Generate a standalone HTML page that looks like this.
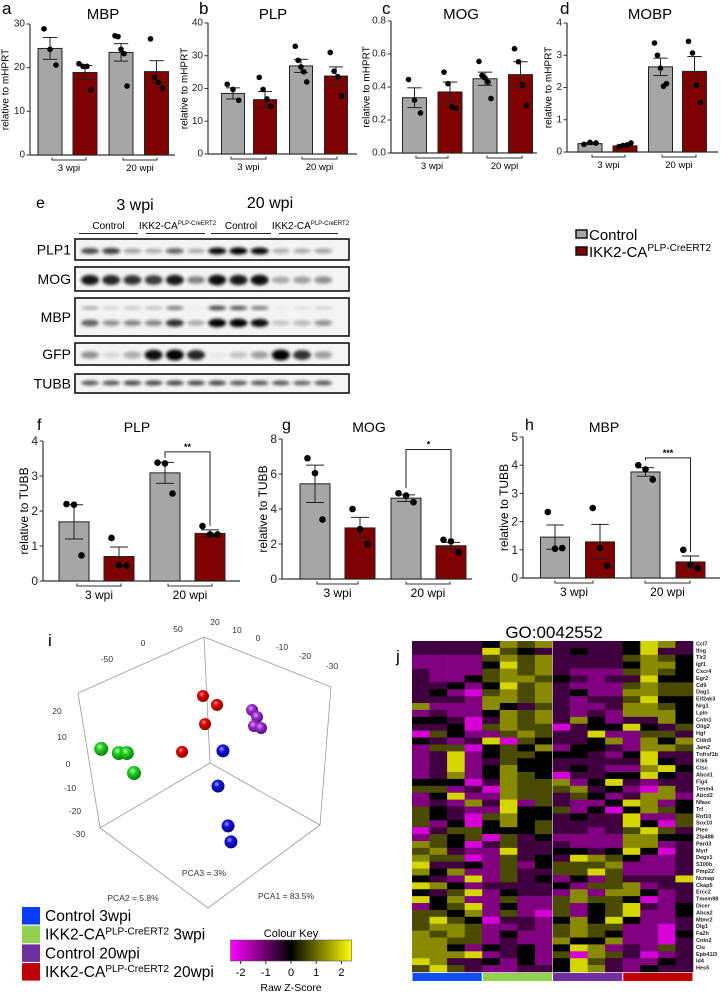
<!DOCTYPE html>
<html><head><meta charset="utf-8">
<style>
html,body{margin:0;padding:0;background:#fff;}
svg{display:block;font-family:"Liberation Sans",Arial,sans-serif;}
</style></head>
<body>
<svg id="fig" xmlns="http://www.w3.org/2000/svg" width="721" height="992" viewBox="0 0 721 992">
<defs>
<filter id="blur" x="-50%" y="-50%" width="200%" height="200%"><feGaussianBlur stdDeviation="1.6"/></filter>
<linearGradient id="zkey" x1="0" x2="1" y1="0" y2="0">
<stop offset="0" stop-color="#ff00ff"/><stop offset="0.5" stop-color="#000"/><stop offset="1" stop-color="#ffff00"/>
</linearGradient>
<radialGradient id="gr-red" cx="0.4" cy="0.35" r="0.7"><stop offset="0" stop-color="#ff9090"/><stop offset="0.35" stop-color="#e00000"/><stop offset="1" stop-color="#800000"/></radialGradient>
<radialGradient id="gr-purple" cx="0.4" cy="0.35" r="0.7"><stop offset="0" stop-color="#e0a0ff"/><stop offset="0.35" stop-color="#9a30d0"/><stop offset="1" stop-color="#4a0a70"/></radialGradient>
<radialGradient id="gr-green" cx="0.4" cy="0.35" r="0.7"><stop offset="0" stop-color="#b0ffb0"/><stop offset="0.35" stop-color="#20d020"/><stop offset="1" stop-color="#0a700a"/></radialGradient>
<radialGradient id="gr-blue" cx="0.4" cy="0.35" r="0.7"><stop offset="0" stop-color="#a0a0ff"/><stop offset="0.35" stop-color="#1010e0"/><stop offset="1" stop-color="#000070"/></radialGradient>
</defs>
</svg>
<script>
// ---------- Bar chart data (qPCR, a-d) ----------
const groups = ["3 wpi", "20 wpi"];
const mbpMeans = [24.4, 18.9, 23.5, 19.1];
const mbpErr = [2.5, 1.6, 2.0, 2.5];
const mbpPts = [[28.9, 24.2, 20.6], [20.9, 20.3, 20.3, 14.9], [27.3, 27.1, 24.2, 23.2, 15.8], [26.6, 17.8, 16.6, 15.3]];
const plpMeans = [18.5, 16.6, 26.9, 23.8];
const plpErr = [1.7, 2.5, 2.0, 2.8];
const plpPts = [[21.3, 19.7, 16.4], [23.4, 19.7, 16.8, 14.6], [32.9, 28.6, 26.6, 25.1, 22.0], [31.0, 25.3, 23.6, 17.7]];
const mogMeans = [0.335, 0.37, 0.45, 0.475];
const mogErr = [0.06, 0.06, 0.04, 0.078];
const mogPts = [[0.445, 0.32, 0.243], [0.49, 0.42, 0.28, 0.27], [0.555, 0.47, 0.455, 0.43, 0.33], [0.632, 0.553, 0.413, 0.29]];
const mobpMeans = [0.26, 0.19, 2.64, 2.5];
const mobpErr = [0.03, 0.03, 0.27, 0.46];
const mobpPts = [[0.24, 0.3, 0.28], [0.17, 0.2, 0.22, 0.28], [3.38, 3.0, 2.6, 2.04, 2.12], [3.43, 3.07, 2.07, 1.53]];
// ---------- Western blot quantification (f-h) ----------
const wbPlpMeans = [1.69, 0.7, 3.09, 1.36];
const wbPlpErr = [0.49, 0.27, 0.3, 0.1];
const wbPlpPts = [[2.2, 2.18, 0.73], [1.23, 0.45, 0.44], [3.38, 3.36, 2.5], [1.57, 1.33, 1.33]];
const wbMogMeans = [5.44, 2.92, 4.62, 1.9];
const wbMogErr = [1.07, 0.6, 0.19, 0.19];
const wbMogPts = [[6.9, 6.05, 3.4], [4.0, 2.85, 2.0], [4.9, 4.77, 4.39], [2.24, 2.15, 1.52]];
const wbMbpMeans = [1.45, 1.28, 3.76, 0.57];
const wbMbpErr = [0.43, 0.62, 0.15, 0.21];
const wbMbpPts = [[2.34, 1.04, 1.06], [2.48, 1.06, 0.43], [4.0, 3.85, 3.49], [1.0, 0.47, 0.35]];
// ---------- Blot band intensities (12 lanes) ----------
const blotRows = ["PLP1", "MOG", "MBP", "GFP", "TUBB"];
const bandPLP1 = [0.7, 0.75, 0.35, 0.3, 0.6, 0.3, 0.95, 1, 0.95, 0.3, 0.3, 0.35];
const bandMOG = [0.9, 0.85, 0.8, 0.75, 0.9, 0.45, 0.95, 0.9, 0.95, 0.3, 0.35, 0.4];
const bandMBPup = [0.3, 0.15, 0.2, 0.25, 0.5, 0.05, 0.7, 0.65, 0.5, 0.05, 0.1, 0.15];
const bandMBPlow = [0.6, 0.4, 0.45, 0.45, 0.8, 0.3, 1, 1, 0.95, 0.2, 0.25, 0.4];
const bandGFP = [0.4, 0.12, 0.3, 0.95, 1, 0.85, 0.05, 0.2, 0.35, 1, 0.8, 0.35];
const bandTUBB = [0.65, 0.65, 0.7, 0.7, 0.7, 0.7, 0.7, 0.65, 0.65, 0.65, 0.6, 0.65];
// ---------- PCA ----------
const pcaGroups = ["Control 3wpi", "IKK2-CA 3wpi", "Control 20wpi", "IKK2-CA 20wpi"];
const pcaPC1 = [[8.1, 5, 11.3, 13.1], [-68, -57, -52, -47.5], [26.3, 29.4, 27.5, 31.9], [-4.4, 4.4, -3.1, -17.5]];
const pcaPC2 = [[3.7, -10.6, -26.8, -33.3], [4.5, 2.8, 2.8, -5.3], [20.3, 17.5, 13.8, 13], [26, 22.4, 14.6, 3.3]];
// ---------- Heatmap ----------
const genes = ["Ccl7","Ifng","Tlr2","Igf1","Cxcr4","Egr2","Cd9","Dag1","Eif2ak3","Nrg1","Lpin","Cntn1","Olig2","Hgf","Cldn5","Jam2","Tnfrsf1b","Klk6","Ctsc","Abcd1","Fig4","Tenm4","Abcd2","Nfasc","Trf","Rnf10","Sox10","Pten","Zfp488","Pard3","Myrf","Degs1","S100b","Pmp22","Ncmap","Ckap5","Ercc2","Tmem98","Dicer","Abca2","Mtmr2","Dlg1","Fa2h","Cntn2","Clu","Epb41l3","Id4","Hes5"];
const heatZ = [
[-0.6,-0.6,-0.6,-0.6,0,1.3,0.7,1.3,-0.6,-0.6,-0.6,-0.6,0,2,1.3,-0.6],
[-0.6,-0.6,-0.6,-0.6,2,0.7,0,-0.6,-0.6,0,-0.6,-0.6,0,2,-0.6,-0.6],
[-1.2,-1.2,-1.2,-1.2,0.7,1.3,0.7,1.3,-0.6,-0.6,-0.6,-0.6,0.7,1.3,0.7,0],
[-1.2,-1.2,-1.2,-1.2,0,2,0.7,1.3,-0.6,-0.6,-0.6,-0.6,0,1.3,1.3,0],
[-0.6,-1.2,-1.2,-1.2,0.7,1.3,0.7,1.3,-0.6,-1.2,-1.2,-1.2,0.7,1.3,0.7,0],
[-0.6,-1.2,-1.2,0,0.7,1.3,1.3,0.7,0,-0.6,-1.2,-0.6,-0.6,2,0,0],
[-0.6,-0.6,0,-1.2,0,2,0.7,1.3,-0.6,-1.2,-1.2,-1.2,0.7,1.3,0.7,0.7],
[-0.6,0,-1.2,-2,0.7,1.3,0.7,1.3,-0.6,0,-1.2,-1.2,1.3,1.3,0.7,0.7],
[-0.6,-0.6,-0.6,-1.2,1.3,1.3,0.7,1.3,-0.6,-1.2,-0.6,-0.6,0.7,2,0,0],
[1.3,-1.2,-1.2,-1.2,1.3,0,-0.6,0.7,-0.6,-1.2,-1.2,-0.6,1.3,1.3,0.7,0],
[-1.2,-0.6,-1.2,-1.2,0,1.3,0.7,1.3,-0.6,-1.2,-0.6,-1.2,1.3,1.3,1.3,0],
[0,0,-0.6,-2,-0.6,1.3,0.7,1.3,-0.6,1.3,0,-1.2,-0.6,-0.6,1.3,0],
[-0.6,-0.6,0,-2,0.7,1.3,0.7,0.7,-2,-0.6,0,0,2,0,-0.6,0.7],
[-2,0.7,0,-1.2,-1.2,0.7,1.3,0.7,-0.6,-0.6,2,-1.2,-1.2,0.7,0.7,-0.6],
[0,-0.6,-1.2,-0.6,2,-2,0.7,0,-0.6,-0.6,0,1.3,-1.2,1.3,0,1.3],
[-1.2,0.7,0.7,-2,0,0.7,0,1.3,-1.2,0,0,-0.6,-1.2,1.3,1.3,0.7],
[-1.2,-0.6,2,-1.2,0,0.7,0.7,0,0,0,-0.6,-1.2,0,2,-0.6,-0.6],
[-1.2,-0.6,2,-1.2,-0.6,0.7,0,0,-0.6,-0.6,-0.6,-0.6,-0.6,2,0,-0.6],
[-1.2,-0.6,2,-1.2,0,1.3,0,0,-0.6,0,-0.6,-1.2,-1.2,1.3,2,0],
[-1.2,-0.6,1.3,-1.2,0,1.3,0.7,0,-2,-0.6,-0.6,0,0,2,0,-0.6],
[0,0,0,-2,-0.6,1.3,0.7,0.7,1.3,-1.2,0,2,-0.6,-1.2,-0.6,-0.6],
[0.7,0.7,-1.2,-0.6,-2,1.3,0.7,0.7,0.7,1.3,-0.6,0,-1.2,-2,1.3,-0.6],
[-1.2,0,2,-1.2,-1.2,1.3,0.7,0.7,-0.6,0.7,0,-1.2,-0.6,1.3,1.3,-1.2],
[-1.2,-0.6,-1.2,1.3,-0.6,2,-1.2,0.7,-0.6,-1.2,-1.2,0,2,1.3,-1.2,0],
[0.7,0,-0.6,-1.2,-1.2,2,0,0,0.7,-1.2,0,-2,0,1.3,0.7,0],
[0.7,0,-0.6,-2,0.7,1.3,0,0,-0.6,0,-0.6,-0.6,2,-1.2,-1.2,0.7],
[0.7,-1.2,0,-2,0,1.3,0,0.7,-0.6,-0.6,-0.6,-0.6,2,0,-2,0.7],
[-2,-0.6,0.7,0.7,0,0,0,0.7,-0.6,-0.6,-1.2,-0.6,0.7,2,0.7,-0.6],
[-1.2,0.7,0,0.7,-2,0.7,-0.6,0,-1.2,-1.2,-1.2,-1.2,1.3,1.3,0,0],
[1.3,0.7,0,-2,-0.6,0.7,-0.6,-0.6,-0.6,-1.2,-1.2,-1.2,1.3,1.3,-1.2,-0.6],
[0.7,1.3,-0.6,-1.2,-1.2,2,-0.6,-0.6,0,0,-0.6,0,2,0,-2,-0.6],
[1.3,0.7,0.7,-2,-1.2,0.7,-0.6,0,-0.6,2,1.3,0.7,0,-1.2,-1.2,-0.6],
[2,-0.6,-0.6,0,-1.2,0.7,-1.2,0,0.7,0.7,0.7,1.3,-1.2,-1.2,-1.2,-0.6],
[1.3,0,1.3,-1.2,-1.2,0.7,-0.6,-0.6,0.7,0.7,2,0.7,-1.2,-1.2,-1.2,-0.6],
[0,-0.6,-1.2,2,-1.2,0.7,-0.6,0,-1.2,0,-1.2,0.7,-0.6,-0.6,-0.6,2],
[2,1.3,0,-1.2,-0.6,-0.6,-0.6,-0.6,0,-1.2,0.7,0.7,1.3,-1.2,-0.6,-0.6],
[0,-0.6,0.7,2,-1.2,0,-0.6,-0.6,-1.2,1.3,-1.2,1.3,1.3,0,-1.2,-0.6],
[2,0,1.3,-1.2,-1.2,0.7,-1.2,-1.2,0.7,1.3,0.7,0.7,0,-2,-1.2,-0.6],
[-1.2,0,0.7,2,-1.2,0,-1.2,-1.2,0.7,-1.2,0,0.7,2,-0.6,-1.2,0],
[0.7,0.7,0,1.3,-1.2,0.7,-1.2,-2,0.7,-1.2,0,0.7,2,-1.2,-1.2,0],
[0.7,2,0.7,0,-2,-0.6,-0.6,-1.2,0,1.3,0,2,0,-1.2,-1.2,-0.6],
[0.7,1.3,1.3,0.7,-1.2,-1.2,-0.6,-1.2,0.7,1.3,0.7,0.7,-1.2,-1.2,-2,-0.6],
[1.3,0.7,1.3,0.7,-1.2,0,-1.2,-1.2,0.7,1.3,0.7,0,-1.2,-1.2,-2,0],
[1.3,1.3,0.7,0.7,-1.2,-0.6,-1.2,-1.2,1.3,0,0,1.3,-1.2,-1.2,-2,-0.6],
[1.3,1.3,0,-1.2,0,-0.6,0,-1.2,0,2,1.3,-1.2,-0.6,-1.2,0.7,-0.6],
[1.3,1.3,1.3,2,-1.2,-0.6,0,-1.2,0.7,-2,1.3,0.7,-0.6,-2,-1.2,-0.6],
[2,1.3,-0.6,-0.6,0,-1.2,0,-1.2,0,2,0.7,-0.6,-1.2,-1.2,0,-0.6],
[0.7,2,0.7,-0.6,-1.2,-1.2,-0.6,-0.6,0,2,1.3,-0.6,-1.2,0,-0.6,-0.6]
];
const zTicks = [-2, -1, 0, 1, 2];

const NS = "http://www.w3.org/2000/svg";
const svg = document.getElementById("fig");
function el(tag, attrs, parent, text) {
  const e = document.createElementNS(NS, tag);
  for (const k in attrs) e.setAttribute(k, attrs[k]);
  if (text !== undefined) e.textContent = text;
  (parent || svg).appendChild(e);
  return e;
}
const GRAY = "#a6a6a6", RED = "#7f0000";

function barPanel(cfg, means, errs, pts) {
  const g = el("g", {});
  
  
  const ys = v => cfg.y0 - (v / cfg.max) * (cfg.y0 - cfg.yTop);
  const t = el("text", {x: cfg.letterX, y: cfg.letterY, "font-size": cfg.letterSize, fill: "#000"}, g, cfg.letter);
  
  
  const tt = el("text", {x: cfg.titleX, y: cfg.titleY, "font-size": cfg.titleSize, "text-anchor": "middle"}, g, cfg.title);
  
  
  const yl = el("text", {transform: `translate(${cfg.ylabX},${(cfg.y0 + cfg.yTop) / 2}) rotate(-90)`, "font-size": cfg.ylabSize, "text-anchor": "middle", "dominant-baseline": "central"}, g, cfg.ylab);
  
  
  // axes
  const ya = el("line", {x1: cfg.ax, x2: cfg.ax, y1: cfg.yTop, y2: cfg.y0, stroke: "#333", "stroke-width": 1.2}, g);
  
  
  const xa = el("line", {x1: cfg.ax, x2: cfg.xEnd, y1: cfg.y0, y2: cfg.y0, stroke: "#333", "stroke-width": 1.2}, g);
  
  
  cfg.ticks.forEach(v => {
    const y = ys(v);
    el("line", {x1: cfg.ax - 3.5, x2: cfg.ax, y1: y, y2: y, stroke: "#333", "stroke-width": 1}, g);
    const tl = el("text", {x: cfg.ax - 5, y: y, "font-size": cfg.tickSize, "text-anchor": "end", "dominant-baseline": "central", fill: "#222"}, g, cfg.fmt(v));
    
    
  });
  means.forEach((m, i) => {
    const cx = cfg.centers[i];
    const b = el("rect", {x: cx - cfg.bw / 2, y: ys(m), width: cfg.bw, height: cfg.y0 - ys(m), fill: i % 2 ? RED : GRAY, stroke: "#222", "stroke-width": 1}, g);
    
    
    const e1 = ys(m + errs[i]), e2 = ys(m - errs[i]);
    el("line", {x1: cx, x2: cx, y1: e1, y2: e2, stroke: "#222", "stroke-width": 1}, g);
    el("line", {x1: cx - cfg.bw * 0.3, x2: cx + cfg.bw * 0.3, y1: e1, y2: e1, stroke: "#222", "stroke-width": 1}, g);
    el("line", {x1: cx - cfg.bw * 0.3, x2: cx + cfg.bw * 0.3, y1: e2, y2: e2, stroke: "#222", "stroke-width": 1}, g);
    const n = pts[i].length;
    pts[i].forEach((p, j) => {
      const off = n === 1 ? 0 : (j / (n - 1) - 0.5) * cfg.bw * 0.5;
      const d = el("circle", {cx: cx + off, cy: ys(p), r: cfg.dotR, fill: "#000"}, g);
      
      
    });
  });
  groups.forEach((lab, k) => {
    const [a, b] = cfg.brackets[k];
    const by = cfg.y0 + cfg.bracketGap;
    el("path", {d: `M${a},${by - 2.5}V${by}H${b}V${by - 2.5}`, fill: "none", stroke: "#333", "stroke-width": 1}, g);
    const gl = el("text", {x: (a + b) / 2, y: by + cfg.grpDy, "font-size": cfg.grpSize, "text-anchor": "middle"}, g, lab);
    
    
  });
  if (cfg.sig) {
    const l = cfg.centers[2], r = cfg.centers[3];
    const top = ys(cfg.sig.top);
    const ly = ys(Math.max(...pts[2])) - 5;
    const ry = ys(means[3] + errs[3]) - 4;
    const s = el("path", {d: `M${l},${ly}V${top}H${r}V${ry}`, fill: "none", stroke: "#222", "stroke-width": 1}, g);
    
    
    const st = el("text", {x: (l + r) / 2, y: top - 2, "font-size": 9, "text-anchor": "middle", "font-weight": "bold"}, g, cfg.sig.label);
    
    
  }
}
const topBase = {y0: 0, bw: 24, dotR: 2.8, tickSize: 10, titleSize: 15, titleY: 19, letterY: 14, letterSize: 17, ylab: "relative to mHPRT", ylabSize: 10, bracketGap: 5, grpDy: 11, grpSize: 9.5};
const f0 = v => String(v), f1 = v => v.toFixed(1);
barPanel(Object.assign({}, topBase, {name: "panel-a-mbp", ax: 30, y0: 155, yTop: 24, max: 30, ticks: [0, 10, 20, 30], fmt: f0, centers: [50, 85, 121, 156.5], xEnd: 175, title: "MBP", titleX: 103, letter: "a", letterX: 2, ylabX: 6, brackets: [[52, 86], [123, 157]]}), mbpMeans, mbpErr, mbpPts);
barPanel(Object.assign({}, topBase, {name: "panel-b-plp", ax: 208, y0: 154, yTop: 23, max: 40, ticks: [0, 10, 20, 30, 40], fmt: f0, centers: [233, 265, 301, 336], bw: 23, xEnd: 357, title: "PLP", titleX: 273, letter: "b", letterX: 199, ylabX: 185, brackets: [[231, 266], [302, 337]]}), plpMeans, plpErr, plpPts);
barPanel(Object.assign({}, topBase, {name: "panel-c-mog", ax: 391, y0: 153, yTop: 21, max: 0.8, ticks: [0, 0.2, 0.4, 0.6, 0.8], fmt: f1, centers: [414.5, 450, 485, 520.5], xEnd: 537, title: "MOG", titleX: 461, letter: "c", letterX: 382, ylabX: 367, brackets: [[416, 448], [487, 522]]}), mogMeans, mogErr, mogPts);
barPanel(Object.assign({}, topBase, {name: "panel-d-mobp", ax: 567, y0: 152, yTop: 23, max: 4, ticks: [0, 1, 2, 3, 4], fmt: f0, centers: [590, 625, 660.5, 694.5], xEnd: 718, title: "MOBP", titleX: 650, letter: "d", letterX: 560, ylabX: 549, brackets: [[592, 625], [662, 696]]}), mobpMeans, mobpErr, mobpPts);

const botBase = {bw: 30, dotR: 3.3, tickSize: 12, titleSize: 14, titleY: 432, letterY: 430, letterSize: 16, ylab: "relative to TUBB", ylabSize: 12, bracketGap: 5, grpDy: 13, grpSize: 12};
barPanel(Object.assign({}, botBase, {name: "panel-f-plp", ax: 43, y0: 581, yTop: 441, max: 4, ticks: [0, 1, 2, 3, 4], fmt: f0, centers: [74, 119, 165, 210], xEnd: 240, title: "PLP", titleX: 137, letter: "f", letterX: 37, ylabX: 24, brackets: [[77, 121], [168, 212]], sig: {top: 3.69, label: "**"}}), wbPlpMeans, wbPlpErr, wbPlpPts);
barPanel(Object.assign({}, botBase, {name: "panel-g-mog", ax: 282, y0: 579, yTop: 439, max: 8, ticks: [0, 2, 4, 6, 8], fmt: f0, centers: [315, 360, 406, 451], xEnd: 472, title: "MOG", titleX: 369, letter: "g", letterX: 282, ylabX: 263, brackets: [[317, 358], [406, 450]], sig: {top: 7.4, label: "*"}}), wbMogMeans, wbMogErr, wbMogPts);
barPanel(Object.assign({}, botBase, {name: "panel-h-mbp", ax: 523, y0: 578, yTop: 437, max: 5, ticks: [0, 1, 2, 3, 4, 5], fmt: f0, centers: [555, 600, 645.5, 690.5], bw: 29, xEnd: 720, title: "MBP", titleX: 604, letter: "h", letterX: 525, ylabX: 504, brackets: [[555, 593], [645, 690]], sig: {top: 4.26, label: "***"}}), wbMbpMeans, wbMbpErr, wbMbpPts);

// ---------- Western blot ----------
(function () {
  const g = el("g", {});
  
  
  let t = el("text", {x: 36, y: 208, "font-size": 16}, g, "e");
  
  
  t = el("text", {x: 135, y: 210, "font-size": 16, "text-anchor": "middle"}, g, "3 wpi");
  
  
  t = el("text", {x: 270, y: 208, "font-size": 16, "text-anchor": "middle"}, g, "20 wpi");
  
  
  const subs = [["Control", 79, 138], ["IKK2", 146, 205], ["Control", 211, 271], ["IKK2", 279, 338]];
  subs.forEach(s => {
    const c = (s[1] + s[2]) / 2;
    let tx;
    if (s[0] === "Control") tx = el("text", {x: c, y: 229, "font-size": 10, "text-anchor": "middle"}, g, "Control");
    else {
      tx = el("text", {x: c + 2, y: 229, "font-size": 10, "text-anchor": "middle"}, g);
      const a = el("tspan", {}, tx, "IKK2-CA");
      el("tspan", {"font-size": 6, dy: -4}, tx, "PLP-CreERT2");
    }
    
    
    el("line", {x1: s[1], x2: s[2], y1: 233.5, y2: 233.5, stroke: "#222", "stroke-width": 1}, g);
  });
  const boxes = [[239, 260], [267, 291], [298, 336], [343, 365], [374, 393]];
  const bands = [[[bandPLP1, 251, 3]], [[bandMOG, 280, 4.5]], [[bandMBPup, 308, 2.2], [bandMBPlow, 323, 3.5]], [[bandGFP, 355, 4.5]], [[bandTUBB, 383, 2.4]]];
  blotRows.forEach((name, r) => {
    const [y1, y2] = boxes[r];
    const lab = el("text", {x: 71, y: (y1 + y2) / 2, "font-size": 14, "text-anchor": "end", "dominant-baseline": "central"}, g, name);
    
    
    const bx = el("rect", {x: 75, y: y1, width: 274, height: y2 - y1, fill: "#f4f4f4", stroke: "#111", "stroke-width": 1.6}, g);
    
    
    bands[r].forEach(([vals, cy, ry]) => {
      vals.forEach((v, i) => {
        const cx = 90 + i * 21.2;
        const e = el("ellipse", {cx: cx, cy: cy, rx: 9, ry: ry * (0.6 + 0.6 * v), fill: "#000", opacity: v, filter: "url(#blur)"}, g);
        
        
      });
    });
  });
  // legend
  const lg = el("g", {}, g);
  
  
  el("rect", {x: 576, y: 230, width: 11, height: 8, fill: GRAY, stroke: "#111", "stroke-width": 1.5}, lg);
  t = el("text", {x: 589, y: 240, "font-size": 15}, lg, "Control");
  
  
  el("rect", {x: 576, y: 247, width: 11, height: 8, fill: RED, stroke: "#111", "stroke-width": 1.5}, lg);
  t = el("text", {x: 589, y: 257, "font-size": 15}, lg);
  el("tspan", {}, t, "IKK2-CA");
  el("tspan", {"font-size": 10, dy: -6}, t, "PLP-CreERT2");
  
  
})();

// ---------- PCA ----------
(function () {
  const g = el("g", {});
  
  
  let t = el("text", {x: 48, y: 646, "font-size": 17}, g, "i");
  
  
  const edges = [[204,637,78,693],[204,637,331,687],[204,637,210,763],[78,693,100,828],[331,687,320,825],[210,763,100,828],[210,763,320,825],[100,828,208,908],[320,825,208,908]];
  edges.forEach(e => el("line", {x1: e[0], y1: e[1], x2: e[2], y2: e[3], stroke: "#999", "stroke-width": 0.8}, g));
  const tl = [["-50",107,662],["0",143,646],["50",178,632],["20",215,625],["10",237,633],["0",258,641],["-10",282,650],["-20",305,659],["-30",332,669],["20",57,714],["10",62,740],["0",68,767],["-10",70,791],["-20",75,814],["-30",79,837]];
  tl.forEach(a => {
    const x = el("text", {x: a[1], y: a[2], "font-size": 8.5, fill: "#333", "text-anchor": "middle"}, g, a[0]);
    
    
  });
  [["PCA3 = 3%",204,876],["PCA2 = 5.8%",133,901],["PCA1 = 83.5%",286,899]].forEach(a => {
    const x = el("text", {x: a[1], y: a[2], "font-size": 8.5, fill: "#333", "text-anchor": "middle"}, g, a[0]);
    
    
  });
  const px = v => 210 + v * 1.6, py = v => 760 - v * 2.46;
  const fills = ["url(#gr-blue)", "url(#gr-green)", "url(#gr-purple)", "url(#gr-red)"];
  const radii = [6.5, 7, 6, 6];
  pcaPC1.forEach((arr, gi) => arr.forEach((v, j) => {
    const c = el("circle", {cx: px(v), cy: py(pcaPC2[gi][j]), r: radii[gi], fill: fills[gi]}, g);
    
    
  }));
  // group legend
  const cols = ["#0a3cff", "#92d050", "#7030a0", "#c00000"];
  const labs = [["Control 3wpi"], ["IKK2-CA", "PLP-CreERT2", " 3wpi"], ["Control 20wpi"], ["IKK2-CA", "PLP-CreERT2", " 20wpi"]];
  labs.forEach((l, i) => {
    const y = 907 + i * 18.7;
    el("rect", {x: 22, y: y, width: 18, height: 17.5, fill: cols[i]}, g);
    const tx = el("text", {x: 45, y: y + 14, "font-size": 15.5}, g);
    el("tspan", {}, tx, l[0]);
    if (l.length > 1) { el("tspan", {"font-size": 10, dy: -5}, tx, l[1]); el("tspan", {dy: 5}, tx, l[2]); }
    
    
  });
  // colour key
  t = el("text", {x: 291, y: 937, "font-size": 11, "text-anchor": "middle"}, g, "Colour Key");
  
  
  const kx = v => 291 + v * 25.2;
  const k = el("rect", {x: kx(-2.4), y: 940, width: kx(2.4) - kx(-2.4), height: 21, fill: "url(#zkey)", stroke: "#555", "stroke-width": 0.6}, g);
  
  
  zTicks.forEach(v => {
    el("line", {x1: kx(v), x2: kx(v), y1: 961, y2: 964, stroke: "#333"}, g);
    const x = el("text", {x: kx(v), y: 976, "font-size": 11, "text-anchor": "middle"}, g, String(v));
    
    
  });
  t = el("text", {x: 291, y: 991, "font-size": 10.5, "text-anchor": "middle"}, g, "Raw Z-Score");
  
  
})();

// ---------- Heatmap ----------
(function () {
  const g = el("g", {});
  
  
  let t = el("text", {x: 554, y: 638, "font-size": 17, "text-anchor": "middle"}, g, "GO:0042552");
  
  
  t = el("text", {x: 396, y: 662, "font-size": 17}, g, "j");
  
  
  const x0 = 412, x1 = 693, y0 = 641, y1 = 972;
  const cw = (x1 - x0) / 16, ch = (y1 - y0) / genes.length;
  const col = v => {
    const a = Math.min(1, Math.abs(v) / 2.4);
    const c = Math.round(255 * a);
    return v < 0 ? `rgb(${c},0,${c})` : `rgb(${c},${c},0)`;
  };
  heatZ.forEach((row, r) => row.forEach((v, c) => {
    const cell = el("rect", {x: x0 + c * cw, y: y0 + r * ch, width: cw + 0.3, height: ch + 0.3, fill: col(v)}, g);
    
    
  }));
  el("line", {x1: x0 + 8 * cw, x2: x0 + 8 * cw, y1: y0, y2: y1, stroke: "#bbb", "stroke-width": 0.8}, g);
  genes.forEach((gn, r) => {
    const x = el("text", {x: 696, y: y0 + (r + 0.5) * ch, "font-size": 5.5, "dominant-baseline": "central", "font-weight": "bold", fill: "#222"}, g, gn);
    
    
  });
  const gc = ["#0a50ff", "#92d050", "#7030a0", "#c00000"];
  gc.forEach((c, i) => {
    const b = el("rect", {x: x0 + i * 4 * cw + 0.5, y: 973, width: 4 * cw - 1, height: 8, fill: c}, g);
    
    
  });
})();
</script>
</body></html>
